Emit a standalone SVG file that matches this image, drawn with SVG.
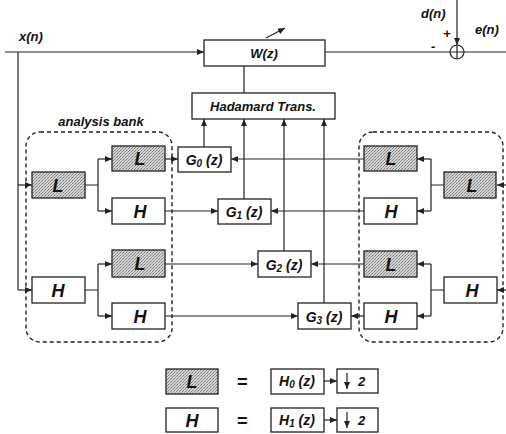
<svg xmlns="http://www.w3.org/2000/svg" width="506" height="434" viewBox="0 0 506 434">
<style>
.ln{fill:none;stroke:#222;stroke-width:1.2}
.bx{fill:#fff;stroke:#222;stroke-width:1.3}
.sh{fill:url(#stip);stroke:#222;stroke-width:1.3}
.db{fill:none;stroke:#222;stroke-width:1.4;stroke-dasharray:4,3}
.t{font-family:"Liberation Sans",Arial,sans-serif;font-weight:bold;font-style:italic;fill:#111}
.big{font-size:18px}
.md{font-size:13px}
.sm{font-size:14px}
</style>
<defs>
<pattern id="stip" width="3" height="3" patternUnits="userSpaceOnUse">
<rect width="3" height="3" fill="#d4d4d4"/>
<rect x="0" y="0" width="1" height="1" fill="#777"/>
<rect x="2" y="1" width="1" height="1" fill="#888"/>
<rect x="1" y="2" width="1" height="1" fill="#999"/>
</pattern>
<marker id="ar" markerWidth="7" markerHeight="6" refX="7" refY="3" orient="auto" markerUnits="userSpaceOnUse">
<path d="M0,0 L7,3 L0,6 z" fill="#222"/>
</marker>
</defs>

<g id="connectors">
<path class="ln" d="M5,52 H204" marker-end="url(#ar)"/>
<path class="ln" d="M18,52 V290"/>
<path class="ln" d="M18,185 H32" marker-end="url(#ar)"/>
<path class="ln" d="M18,290 H32" marker-end="url(#ar)"/>
<path class="ln" d="M85,185 H98 M98,159 V211"/>
<path class="ln" d="M98,159 H112" marker-end="url(#ar)"/>
<path class="ln" d="M98,211 H112" marker-end="url(#ar)"/>
<path class="ln" d="M85,290 H98 M98,264 V316"/>
<path class="ln" d="M98,264 H112" marker-end="url(#ar)"/>
<path class="ln" d="M98,316 H112" marker-end="url(#ar)"/>
<path class="ln" d="M165,159 H178" marker-end="url(#ar)"/>
<path class="ln" d="M165,211 H218" marker-end="url(#ar)"/>
<path class="ln" d="M165,264 H258" marker-end="url(#ar)"/>
<path class="ln" d="M165,316 H298" marker-end="url(#ar)"/>
<path class="ln" d="M364,159 H231" marker-end="url(#ar)"/>
<path class="ln" d="M364,211 H271" marker-end="url(#ar)"/>
<path class="ln" d="M364,264 H311" marker-end="url(#ar)"/>
<path class="ln" d="M364,316 H351" marker-end="url(#ar)"/>
<path class="ln" d="M444,185 H431 M431,159 V211"/>
<path class="ln" d="M431,159 H417" marker-end="url(#ar)"/>
<path class="ln" d="M431,211 H417" marker-end="url(#ar)"/>
<path class="ln" d="M444,290 H431 M431,264 V316"/>
<path class="ln" d="M431,264 H417" marker-end="url(#ar)"/>
<path class="ln" d="M431,316 H417" marker-end="url(#ar)"/>
<path class="ln" d="M506,185 H497" marker-end="url(#ar)"/>
<path class="ln" d="M506,290 H497" marker-end="url(#ar)"/>
<path class="ln" d="M204,147 V119" marker-end="url(#ar)"/>
<path class="ln" d="M244,199 V119" marker-end="url(#ar)"/>
<path class="ln" d="M284,251 V119" marker-end="url(#ar)"/>
<path class="ln" d="M324,303 V119" marker-end="url(#ar)"/>
<path class="ln" d="M244,93 V66"/>
<path class="ln" d="M325,52 H450 M464,52 H506"/>
<path class="ln" d="M457,0 V45" marker-end="url(#ar)"/>
<path class="ln" d="M266,38 L285,28" marker-end="url(#ar)"/>
<path class="ln" d="M324,381 H337" marker-end="url(#ar)"/>
<path class="ln" d="M324,420 H337" marker-end="url(#ar)"/>
</g>

<g id="sum">
<circle cx="457" cy="52" r="7" fill="none" stroke="#222" stroke-width="1.2"/>
<path class="ln" d="M450,52 H464 M457,45 V59"/>
</g>

<g id="labels">
<text class="t md" x="19" y="41">x(n)</text>
<text class="t md" x="421" y="18">d(n)</text>
<text class="t md" x="475" y="34">e(n)</text>
<text class="t md" x="443" y="38">+</text>
<text class="t md" x="431" y="51">-</text>
<text class="t md" x="101" y="126" text-anchor="middle">analysis bank</text>
</g>

<g id="analysis-left"><rect class="db" x="26" y="132" width="146" height="210" rx="14"/></g>
<g id="analysis-right"><rect class="db" x="359" y="132" width="144" height="210" rx="14"/></g>

<g id="Wz"><rect class="bx" x="204" y="40" width="121" height="26"/><text class="t md" x="264" y="58" text-anchor="middle">W(z)</text></g>
<g id="hadamard"><rect class="bx" x="192" y="93" width="143" height="26"/><text class="t md" x="263" y="111" text-anchor="middle">Hadamard Trans.</text></g>

<g id="G0"><rect class="bx" x="178" y="147" width="53" height="25"/><text class="t sm" x="204" y="165" text-anchor="middle">G<tspan font-size="10" dy="2">0</tspan><tspan dy="-2"> (z)</tspan></text></g>
<g id="G1"><rect class="bx" x="218" y="199" width="53" height="25"/><text class="t sm" x="244" y="217" text-anchor="middle">G<tspan font-size="10" dy="2">1</tspan><tspan dy="-2"> (z)</tspan></text></g>
<g id="G2"><rect class="bx" x="258" y="251" width="53" height="26"/><text class="t sm" x="284" y="270" text-anchor="middle">G<tspan font-size="10" dy="2">2</tspan><tspan dy="-2"> (z)</tspan></text></g>
<g id="G3"><rect class="bx" x="298" y="303" width="53" height="26"/><text class="t sm" x="324" y="322" text-anchor="middle">G<tspan font-size="10" dy="2">3</tspan><tspan dy="-2"> (z)</tspan></text></g>

<g id="L-left1"><rect class="sh" x="32" y="172" width="53" height="26"/><text class="t big" x="58" y="192" text-anchor="middle">L</text></g>
<g id="H-left1"><rect class="bx" x="32" y="277" width="53" height="26"/><text class="t big" x="58" y="297" text-anchor="middle">H</text></g>
<g id="L-left2a"><rect class="sh" x="112" y="146" width="53" height="25"/><text class="t big" x="140" y="165" text-anchor="middle">L</text></g>
<g id="H-left2a"><rect class="bx" x="112" y="198" width="53" height="26"/><text class="t big" x="140" y="218" text-anchor="middle">H</text></g>
<g id="L-left2b"><rect class="sh" x="112" y="250" width="53" height="27"/><text class="t big" x="140" y="270" text-anchor="middle">L</text></g>
<g id="H-left2b"><rect class="bx" x="112" y="303" width="53" height="26"/><text class="t big" x="140" y="323" text-anchor="middle">H</text></g>

<g id="L-right2a"><rect class="sh" x="364" y="146" width="53" height="25"/><text class="t big" x="391" y="165" text-anchor="middle">L</text></g>
<g id="H-right2a"><rect class="bx" x="364" y="198" width="53" height="26"/><text class="t big" x="391" y="218" text-anchor="middle">H</text></g>
<g id="L-right2b"><rect class="sh" x="364" y="251" width="53" height="26"/><text class="t big" x="391" y="271" text-anchor="middle">L</text></g>
<g id="H-right2b"><rect class="bx" x="364" y="303" width="53" height="26"/><text class="t big" x="391" y="323" text-anchor="middle">H</text></g>
<g id="L-right1"><rect class="sh" x="444" y="172" width="52" height="26"/><text class="t big" x="472" y="192" text-anchor="middle">L</text></g>
<g id="H-right1"><rect class="bx" x="444" y="277" width="53" height="26"/><text class="t big" x="472" y="297" text-anchor="middle">H</text></g>

<g id="legend-L">
<rect class="sh" x="166" y="369" width="52" height="25"/><text class="t big" x="192" y="388" text-anchor="middle">L</text>
<text class="t big" x="242" y="388" text-anchor="middle">=</text>
<rect class="bx" x="271" y="369" width="53" height="25"/><text class="t sm" x="297" y="386" text-anchor="middle">H<tspan font-size="10" dy="2">0</tspan><tspan dy="-2"> (z)</tspan></text>
<rect class="bx" x="337" y="369" width="41" height="24"/>
<path class="ln" d="M347,373 V389" marker-end="url(#ar)"/>
<text class="t md" x="358" y="386">2</text>
</g>
<g id="legend-H">
<rect class="bx" x="166" y="408" width="52" height="24"/><text class="t big" x="192" y="427" text-anchor="middle">H</text>
<text class="t big" x="242" y="427" text-anchor="middle">=</text>
<rect class="bx" x="271" y="408" width="53" height="24"/><text class="t sm" x="297" y="425" text-anchor="middle">H<tspan font-size="10" dy="2">1</tspan><tspan dy="-2"> (z)</tspan></text>
<rect class="bx" x="337" y="408" width="41" height="24"/>
<path class="ln" d="M347,412 V428" marker-end="url(#ar)"/>
<text class="t md" x="358" y="425">2</text>
</g>
</svg>
